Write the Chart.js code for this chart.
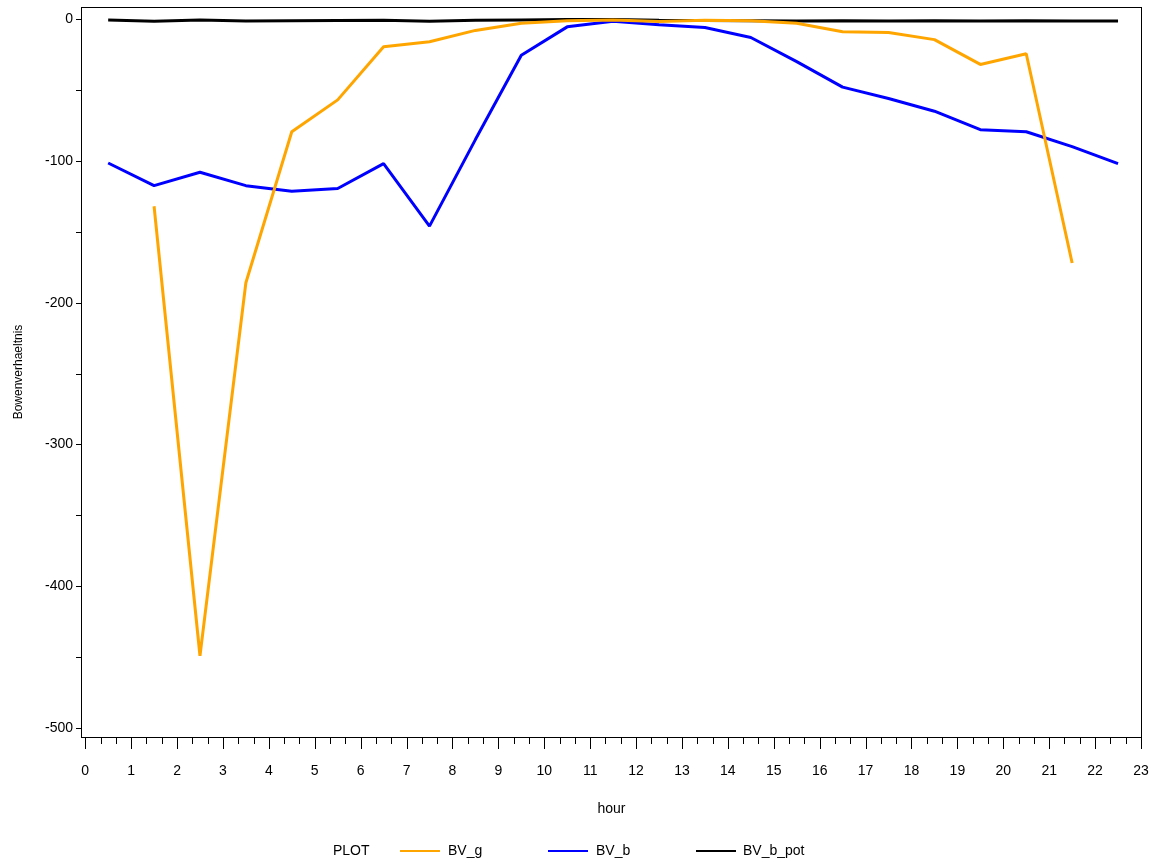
<!DOCTYPE html>
<html>
<head>
<meta charset="utf-8">
<script src="https://cdn.jsdelivr.net/npm/chart.js@4"></script>
<style>
  body { margin: 0; background: #fff; }
  #wrap { position: relative; width: 1151px; height: 860px; }
  #legend { position: absolute; left: 0; top: 0; width: 100%; height: 100%; pointer-events: none;
            font-family: "Liberation Sans", Arial, sans-serif; font-size: 14px; color: #000; }
  #legend span { position: absolute; top: 842px; line-height: 16px; }
  #legend i { position: absolute; top: 850px; width: 40px; height: 2px; }
</style>
</head>
<body>
<div id="wrap">
  <canvas id="chartBowen" width="1151" height="860"></canvas>
  <div id="legend"></div>
</div>
<script>
// valores (hora, razon de Bowen)
const hours = [0.5, 1.5, 2.5, 3.5, 4.5, 5.5, 6.5, 7.5, 8.5, 9.5, 10.5, 11.5,
               12.5, 13.5, 14.5, 15.5, 16.5, 17.5, 18.5, 19.5, 20.5, 21.5, 22.5];
const bvG = [null, -132, -449, -186, -79.5, -57, -19.5, -16, -8, -3, -1.2, -0.7,
             -1.8, -0.8, -1.2, -3, -9, -9.5, -14.5, -32, -24.5, -172, null];
const bvB = [-101.5, -117.5, -108, -117.5, -121.5, -119.5, -102, -146, -85, -25.5, -5.5, -1.5,
             -4, -6, -13, -30, -48, -56, -65, -78, -79.5, -90, -102];
const bvBPot = [-0.6, -1.5, -0.7, -1.4, -1.2, -1.0, -0.8, -1.5, -0.9, -0.6, -0.4, -0.3,
                -0.9, -1.1, -1.2, -1.3, -1.2, -1.3, -1.2, -1.3, -1.2, -1.3, -1.4];
const xTicks = [0, 1, 2, 3, 4, 5, 6, 7, 8, 9, 10, 11, 12, 13, 14, 15, 16, 17, 18, 19, 20, 21, 22, 23];
const yTicks = [-500, -400, -300, -200, -100, 0];
const seriesNames = ["BV_g", "BV_b", "BV_b_pot"];
const seriesColors = ["#FFA500", "#0000FF", "#000000"];

const toPoints = (vals) => hours.map((h, i) => ({ x: h, y: vals[i] }));
const font = { family: "'Liberation Sans', Arial, sans-serif", size: 14 };

// sin relleno extra por las etiquetas de los extremos
const noPad = (s) => { s.paddingTop = 0; s.paddingBottom = 0; s.paddingLeft = 0; s.paddingRight = 0; };

// marco y marcas de los ejes (estilo SAS)
const framePlugin = {
  id: "frame",
  afterDraw(chart) {
    const { ctx, chartArea: a, scales } = chart;
    ctx.save();
    ctx.strokeStyle = "#000";
    ctx.lineWidth = 1;
    ctx.strokeRect(a.left - 0.5, a.top + 0.5, a.right - a.left + 1, a.bottom - a.top);
    ctx.beginPath();
    // x: mayores cada hora, menores cada 1/3
    for (let k = 0; k <= 23 * 3; k++) {
      const px = Math.round(scales.x.getPixelForValue(k / 3)) + 0.5;
      const len = k % 3 === 0 ? 11 : 6;
      ctx.moveTo(px, a.bottom + 1);
      ctx.lineTo(px, a.bottom + 1 + len);
    }
    // y: cada 50
    for (let v = -500; v <= 0; v += 50) {
      const py = Math.round(scales.y.getPixelForValue(v)) + 0.5;
      ctx.moveTo(a.left - 1, py);
      ctx.lineTo(a.left - 6, py);
    }
    ctx.stroke();
    ctx.restore();
  },
};

new Chart(document.getElementById("chartBowen").getContext("2d"), {
  type: "line",
  data: {
    datasets: [
      { label: seriesNames[0], data: toPoints(bvG) },
      { label: seriesNames[1], data: toPoints(bvB) },
      { label: seriesNames[2], data: toPoints(bvBPot) },
    ].map((d, i) => ({
      ...d,
      borderColor: seriesColors[i],
      backgroundColor: seriesColors[i],
      borderWidth: 3,
      borderJoinStyle: "bevel",
      pointRadius: 0,
      tension: 0,
      fill: false,
      spanGaps: false,
    })),
  },
  options: {
    responsive: false,
    animation: false,
    layout: { padding: { top: 7, right: 10, left: 0, bottom: 0 } },
    plugins: {
      legend: { display: false },
      tooltip: { enabled: false },
    },
    scales: {
      x: {
        type: "linear",
        min: -0.07,
        max: 23,
        afterBuildTicks: (s) => { s.ticks = xTicks.map((v) => ({ value: v })); },
        afterFit: (s) => { s.height = 123; noPad(s); },
        grid: { display: false, drawTicks: false },
        border: { display: false },
        ticks: { color: "#000", font, padding: 26, maxRotation: 0, autoSkip: false },
        title: { display: true, text: "hour", color: "#000", font, padding: { top: 0, bottom: 42 } },
      },
      y: {
        min: -506.3,
        max: 8.5,
        afterBuildTicks: (s) => { s.ticks = yTicks.map((v) => ({ value: v })); },
        afterFit: (s) => { s.width = 82; noPad(s); },
        grid: { display: false, drawTicks: false },
        border: { display: false },
        ticks: { color: "#000", font, padding: 9 },
        title: {
          display: true, text: "Bowenverhaeltnis", color: "#000",
          font: { family: font.family, size: 12 }, padding: { top: 11, bottom: 0 },
        },
      },
    },
  },
  plugins: [framePlugin],
});

// leyenda inferior
const legend = document.getElementById("legend");
const legendX = [[400, 448], [548, 596], [696, 743]];
legend.innerHTML = '<span style="left:333px">PLOT</span>' +
  seriesNames.map((n, i) =>
    `<i style="left:${legendX[i][0]}px;background:${seriesColors[i]}"></i>` +
    `<span style="left:${legendX[i][1]}px">${n}</span>`).join("");
</script>
</body>
</html>
